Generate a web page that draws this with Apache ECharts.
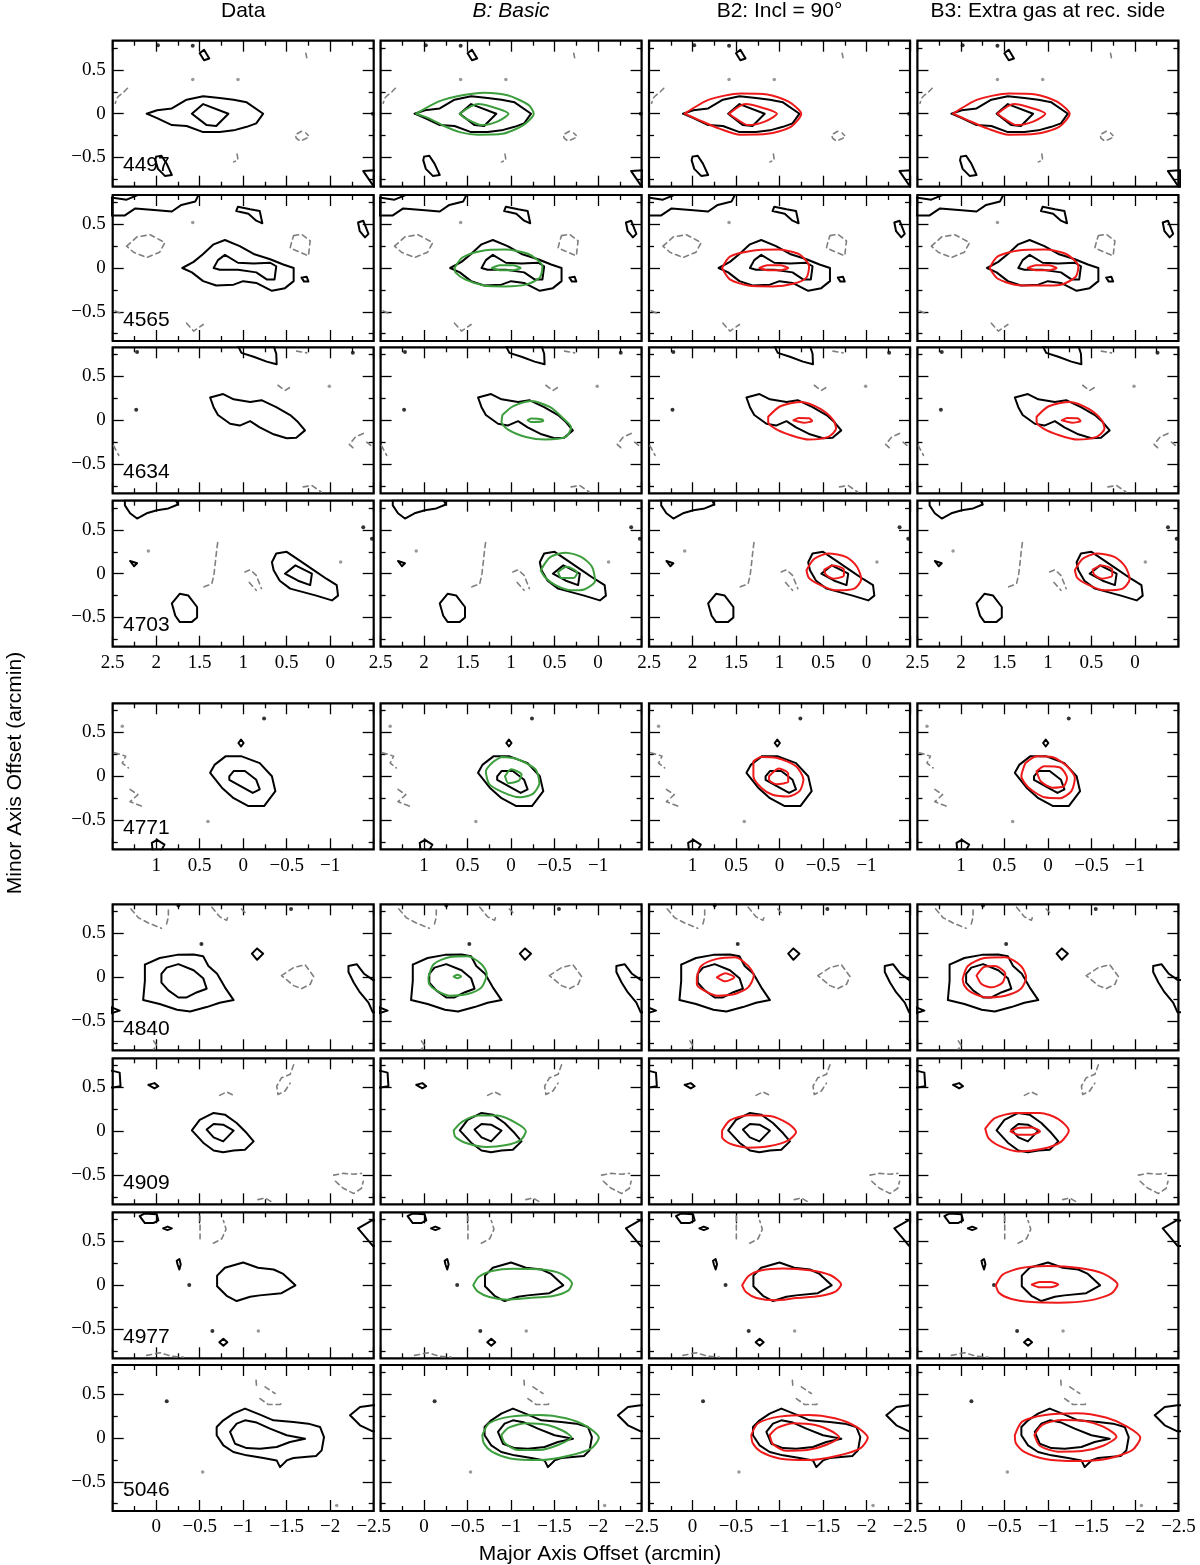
<!DOCTYPE html>
<html><head><meta charset="utf-8">
<script src="https://cdn.jsdelivr.net/npm/echarts@6.0.0/dist/echarts.min.js"></script>
<style>html,body{margin:0;padding:0;background:#fff}#c{width:1200px;height:1565px}</style>
</head><body><div id="c"></div>
<script>
// ---------------- text ----------------
const colTitles = ['Data', 'B: Basic', 'B2: Incl = 90\u00b0', 'B3: Extra gas at rec. side'];
const galaxyIds = ['4497','4565','4634','4703','4771','4840','4909','4977','5046'];
const xTitle = 'Major Axis Offset (arcmin)';
const yTitle = 'Minor Axis Offset (arcmin)';
// tick labels
const xLabelsA = [2.5, 2, 1.5, 1, 0.5, 0];
const xLabelsB = [1, 0.5, 0, -0.5, -1];
const xLabelsC = [0, -0.5, -1, -1.5, -2, -2.5];
const yLabels = [-0.5, 0, 0.5];
const yMinorTicks = [-0.75, -0.25, 0.25, 0.75];
const xRangeA = [-0.5, 2.5], xRangeB = [-1.5, 1.5], xRangeC = [-2.5, 0.5];
const yRange = [-0.8333, 0.8333];

// ---------------- NGC 4497 ----------------
const g4497_pos = [
 [[2.11,0],[1.99,0.04],[1.82,0.06],[1.65,0.16],[1.46,0.20],[1.27,0.18],[1.11,0.16],[0.96,0.13],[0.77,0],[0.85,-0.11],[0.96,-0.15],[1.11,-0.19],[1.27,-0.21],[1.46,-0.21],[1.65,-0.14],[1.82,-0.13],[1.99,-0.05]],
 [[1.59,0],[1.46,0.11],[1.17,0],[1.31,-0.14],[1.42,-0.13]],
 [[1.50,0.69],[1.45,0.73],[1.39,0.63],[1.45,0.61]],
 [[2.00,-0.49],[1.94,-0.48],[1.88,-0.57],[1.82,-0.70],[1.90,-0.71],[1.98,-0.63],[2.01,-0.53]],
 [[-0.38,-0.655],[-0.52,-0.645],[-0.52,-0.86]]
];
const g4497_neg = [
 [[2.33,0.29],[2.37,0.25],[2.42,0.21],[2.45,0.18],[2.47,0.12]],
 [[0.33,-0.20],[0.40,-0.24],[0.39,-0.28],[0.35,-0.31],[0.29,-0.29],[0.24,-0.26],[0.28,-0.22]],
 [[1.07,-0.46],[1.06,-0.53],[1.11,-0.55]],
 [[0.28,0.69],[0.27,0.64]]
];
const g4497_dots = [[1.98,0.78],[1.58,0.775],[-0.49,0]];
const g4497_gdots = [[1.58,0.39],[1.06,0.39]];
const g4497_B = [
 [[2.09,0],[1.83,0.14],[1.56,0.21],[1.31,0.24],[1.04,0.21],[0.80,0.10],[0.74,0],[0.86,-0.13],[1.10,-0.23],[1.38,-0.24],[1.59,-0.21],[1.77,-0.14],[1.95,-0.05]],
 [[1.59,0],[1.38,0.11],[1.16,0.06],[1.03,0],[1.16,-0.09],[1.34,-0.13],[1.53,-0.05]]
];
const g4497_B2 = [
 [[2.09,0],[1.81,0.16],[1.45,0.23],[1.14,0.22],[0.90,0.14],[0.75,0],[0.87,-0.15],[1.14,-0.23],[1.45,-0.24],[1.69,-0.17],[1.93,-0.07]],
 [[1.58,0],[1.39,0.11],[1.17,0.06],[1.03,0],[1.17,-0.09],[1.36,-0.13],[1.51,-0.05]]
];
const g4497_B3 = [
 [[2.09,0],[1.81,0.16],[1.45,0.23],[1.14,0.22],[0.90,0.14],[0.75,0],[0.87,-0.15],[1.14,-0.23],[1.45,-0.24],[1.69,-0.17],[1.93,-0.07]],
 [[1.58,0],[1.39,0.11],[1.17,0.06],[1.03,0],[1.17,-0.09],[1.36,-0.13],[1.51,-0.05]]
];

// ---------------- NGC 4565 ----------------
const g4565_pos = [
 [[1.70,0],[1.57,0.07],[1.46,0.16],[1.34,0.27],[1.21,0.32],[1.04,0.25],[0.88,0.16],[0.69,0.10],[0.54,0.04],[0.42,0],[0.42,-0.15],[0.52,-0.23],[0.67,-0.26],[0.85,-0.17],[1.00,-0.15],[1.11,-0.19],[1.31,-0.20],[1.46,-0.15],[1.59,-0.05]],
 [[1.34,0],[1.29,0.09],[1.21,0.15],[1.06,0.06],[0.88,0.05],[0.69,0.06],[0.62,0.02],[0.64,-0.13],[0.73,-0.13],[0.85,-0.05],[1.06,-0.02],[1.27,-0.02]],
 [[2.52,0.60],[2.36,0.60],[2.24,0.68],[1.99,0.66],[1.82,0.645],[1.71,0.72],[1.55,0.76],[1.505,0.85],[2.17,0.85],[2.34,0.78],[2.52,0.805]],
 [[1.08,0.65],[1.06,0.70],[0.92,0.67],[0.81,0.65],[0.78,0.51],[0.85,0.54],[0.94,0.62]],
 [[-0.32,0.52],[-0.38,0.54],[-0.44,0.39],[-0.40,0.35],[-0.34,0.42]],
 [[0.33,-0.11],[0.27,-0.10],[0.25,-0.155],[0.30,-0.155]]
];
const g4565_neg = [
 [[2.34,0.25],[2.22,0.355],[2.07,0.38],[1.90,0.29],[1.96,0.18],[2.11,0.12],[2.26,0.18],[2.34,0.25]],
 [[0.42,0.37],[0.33,0.385],[0.23,0.31],[0.25,0.14],[0.35,0.18],[0.46,0.23],[0.44,0.31],[0.42,0.37]],
 [[2.47,-0.49],[2.38,-0.53]],
 [[1.65,-0.63],[1.57,-0.72],[1.46,-0.645]]
];
const g4565_dots = [];
const g4565_gdots = [[1.58,0.52]];
const g4565_B = [
 [[1.65,0],[1.56,0.12],[1.34,0.195],[1.07,0.21],[0.80,0.16],[0.64,0.02],[0.67,-0.11],[0.83,-0.19],[1.07,-0.21],[1.31,-0.20],[1.53,-0.13],[1.64,-0.05]],
 [[1.22,0],[1.13,0.03],[0.98,0.03],[0.89,0],[0.98,-0.025],[1.13,-0.025]]
];
const g4565_B2 = [
 [[1.66,0],[1.57,0.13],[1.33,0.195],[1.02,0.21],[0.78,0.16],[0.66,0.02],[0.69,-0.11],[0.84,-0.18],[1.08,-0.21],[1.36,-0.20],[1.57,-0.13]],
 [[1.23,0],[1.14,0.03],[0.99,0.03],[0.90,0],[0.99,-0.025],[1.14,-0.025]]
];
const g4565_B3 = [
 [[1.67,0],[1.58,0.13],[1.34,0.20],[1.03,0.21],[0.79,0.16],[0.65,0.02],[0.68,-0.10],[0.85,-0.19],[1.10,-0.20],[1.38,-0.19],[1.58,-0.12]],
 [[1.23,0],[1.14,0.03],[0.99,0.03],[0.90,0],[0.99,-0.025],[1.14,-0.025]]
];

// ---------------- NGC 4634 ----------------
const g4634_pos = [
 [[1.38,0.26],[1.23,0.30],[1.11,0.24],[0.92,0.21],[0.79,0.23],[0.62,0.15],[0.46,0.06],[0.37,-0.02],[0.29,-0.115],[0.39,-0.20],[0.50,-0.205],[0.65,-0.16],[0.81,-0.08],[0.92,-0.01],[1.04,-0.06],[1.15,-0.04],[1.29,0.06],[1.34,0.15]],
 [[1.06,0.85],[1.06,0.83],[1.02,0.77],[0.88,0.725],[0.73,0.67],[0.615,0.64],[0.62,0.76],[0.65,0.85]]
];
const g4634_neg = [
 [[0.60,0.40],[0.52,0.34],[0.44,0.39]],
 [[0.385,0.79],[0.27,0.77]],
 [[-0.38,-0.15],[-0.29,-0.19],[-0.22,-0.275],[-0.29,-0.34]],
 [[-0.42,-0.25],[-0.49,-0.305]],
 [[2.49,-0.29],[2.43,-0.40]],
 [[0.31,-0.76],[0.21,-0.745],[0.10,-0.82]]
];
const g4634_dots = [[2.23,0.12],[-0.26,0.77],[2.22,0.78]];
const g4634_gdots = [[0.01,0.39]];
const g4634_B = [
 [[1.10,0.06],[0.98,0.16],[0.77,0.22],[0.55,0.15],[0.40,0.02],[0.31,-0.08],[0.37,-0.19],[0.61,-0.22],[0.83,-0.19],[1.03,-0.11],[1.11,-0.02]],
 [[0.81,0],[0.77,0.02],[0.64,0.01],[0.63,-0.01],[0.77,-0.02]]
];
const g4634_B2 = [
 [[1.13,0.04],[0.99,0.16],[0.75,0.21],[0.53,0.13],[0.38,0],[0.35,-0.095],[0.44,-0.19],[0.66,-0.22],[0.87,-0.17],[1.05,-0.095],[1.13,-0.02]],
 [[0.84,0],[0.78,0.027],[0.66,0.023],[0.625,-0.008],[0.72,-0.027]]
];
const g4634_B3 = [
 [[1.13,0.04],[0.99,0.16],[0.75,0.21],[0.53,0.13],[0.38,0],[0.35,-0.095],[0.44,-0.19],[0.66,-0.22],[0.87,-0.17],[1.05,-0.095],[1.13,-0.02]],
 [[0.84,0],[0.78,0.027],[0.66,0.023],[0.625,-0.008],[0.72,-0.027]]
];

// ---------------- NGC 4703 ----------------
const g4703_pos = [
 [[0.67,0.13],[0.62,0.23],[0.50,0.25],[0.35,0.15],[0.19,0.04],[0.04,-0.06],[-0.075,-0.13],[-0.09,-0.25],[-0.02,-0.305],[0.16,-0.25],[0.31,-0.21],[0.46,-0.17],[0.58,-0.08],[0.65,0.04]],
 [[0.52,0],[0.40,0.095],[0.21,0],[0.23,-0.13],[0.37,-0.08]],
 [[2.36,0.85],[2.36,0.78],[2.30,0.69],[2.22,0.63],[2.11,0.69],[1.99,0.725],[1.86,0.745],[1.75,0.79],[1.78,0.85]],
 [[1.82,-0.34],[1.73,-0.23],[1.63,-0.25],[1.53,-0.38],[1.53,-0.50],[1.59,-0.55],[1.73,-0.55],[1.78,-0.48]],
 [[2.30,0.145],[2.22,0.12],[2.255,0.085]]
];
const g4703_neg = [
 [[1.45,-0.15],[1.36,-0.115],[1.335,0],[1.32,0.13],[1.305,0.27],[1.29,0.38]],
 [[0.98,0.02],[0.92,0.045],[0.85,-0.02],[0.79,-0.17]],
 [[0.93,-0.10],[0.85,-0.19]]
];
const g4703_dots = [[-0.38,0.53],[-0.48,0.40]];
const g4703_gdots = [[2.09,0.26],[-0.12,0.134]];
const g4703_B = [
 [[0.66,0.04],[0.55,0.19],[0.37,0.24],[0.19,0.19],[0.07,0.08],[0.035,-0.08],[0.16,-0.18],[0.31,-0.19],[0.49,-0.13],[0.61,-0.04]],
 [[0.46,0.02],[0.36,0.08],[0.24,0.01],[0.28,-0.05],[0.42,-0.05]]
];
const g4703_B2 = [
 [[0.69,0.04],[0.60,0.17],[0.44,0.23],[0.23,0.19],[0.11,0.08],[0.06,-0.06],[0.14,-0.17],[0.35,-0.19],[0.53,-0.13],[0.66,-0.05]],
 [[0.485,0.046],[0.38,0.095],[0.26,0.046],[0.26,-0.02],[0.38,-0.057],[0.47,-0.008]]
];
const g4703_B3 = [
 [[0.69,0.04],[0.60,0.17],[0.44,0.23],[0.23,0.19],[0.11,0.08],[0.06,-0.06],[0.14,-0.17],[0.35,-0.19],[0.53,-0.13],[0.66,-0.05]],
 [[0.485,0.046],[0.38,0.095],[0.26,0.046],[0.26,-0.02],[0.38,-0.057],[0.47,-0.008]]
];

// ---------------- NGC 4771 ----------------
const g4771_pos = [
 [[0.33,0.13],[0.20,0.23],[0.025,0.23],[-0.19,0.15],[-0.33,0],[-0.37,-0.17],[-0.24,-0.34],[-0.06,-0.34],[0.11,-0.25],[0.245,-0.13],[0.38,0.04]],
 [[0.16,0],[0.11,0.06],[-0.02,0.06],[-0.15,-0.04],[-0.19,-0.15],[-0.11,-0.19],[0.025,-0.115],[0.16,-0.04]],
 [[0.99,-0.725],[0.905,-0.78],[0.95,-0.86],[1.04,-0.86],[1.05,-0.76]],
 [[0.055,0.38],[0.025,0.42],[-0.005,0.38],[0.025,0.34]]
];
const g4771_neg = [
 [[1.48,0.27],[1.35,0.23],[1.39,0.15],[1.32,0.095]],
 [[1.30,-0.15],[1.21,-0.21],[1.30,-0.29],[1.17,-0.34]]
];
const g4771_dots = [[-0.24,0.66]];
const g4771_gdots = [[0.405,-0.515],[1.39,0.57]];
const g4771_B = [
 [[0.115,0.22],[-0.06,0.20],[-0.28,0.08],[-0.325,-0.08],[-0.25,-0.20],[-0.106,-0.24],[0.03,-0.21],[0.246,-0.095],[0.29,0.057],[0.20,0.17]],
 [[0.07,0],[0.0,0.08],[-0.12,0.02],[-0.09,-0.05],[0.03,-0.08]]
];
const g4771_B2 = [
 [[0.30,0.17],[0.21,0.22],[0.03,0.21],[-0.19,0.115],[-0.275,-0.04],[-0.23,-0.17],[-0.10,-0.23],[0.08,-0.21],[0.21,-0.13],[0.30,0]],
 [[0.12,0],[0.007,0.09],[-0.10,0.03],[-0.10,-0.06],[0.03,-0.09],[0.12,-0.04]]
];
const g4771_B3 = [
 [[0.26,0.15],[0.13,0.23],[-0.05,0.22],[-0.22,0.115],[-0.31,-0.02],[-0.27,-0.17],[-0.14,-0.25],[0.04,-0.24],[0.22,-0.13],[0.305,0]],
 [[0.13,0.057],[0.04,0.115],[-0.14,0.10],[-0.22,-0.02],[-0.18,-0.115],[-0.05,-0.13],[0.08,-0.06]]
];

// ---------------- NGC 4840 ----------------
const g4840_pos = [
 [[0.13,0.145],[-0.04,0.22],[-0.24,0.256],[-0.43,0.26],[-0.54,0.24],[-0.60,0.13],[-0.70,0.04],[-0.79,-0.115],[-0.89,-0.26],[-0.73,-0.29],[-0.58,-0.34],[-0.39,-0.39],[-0.24,-0.37],[-0.04,-0.305],[0.15,-0.26],[0.13,-0.04]],
 [[-0.06,0.04],[-0.12,0.11],[-0.255,0.15],[-0.43,0.08],[-0.54,-0.01],[-0.58,-0.13],[-0.47,-0.17],[-0.35,-0.23],[-0.255,-0.23],[-0.14,-0.15],[-0.06,-0.06]],
 [[-1.10,0.27],[-1.16,0.33],[-1.23,0.27],[-1.16,0.20]],
 [[-2.21,0.13],[-2.305,0.15],[-2.39,0.04],[-2.49,-0.03],[-2.6,-0.03],[-2.6,-0.40],[-2.49,-0.40],[-2.44,-0.29],[-2.34,-0.17],[-2.27,-0.06],[-2.21,0.06]],
 [[0.52,-0.34],[0.42,-0.38],[0.52,-0.41]]
];
const g4840_neg = [
 [[0.29,0.78],[0.205,0.68],[0.09,0.62],[-0.06,0.56]],
 [[-0.12,0.61],[-0.14,0.69],[-0.14,0.78]],
 [[-0.64,0.80],[-0.73,0.69],[-0.81,0.65],[-0.83,0.71]],
 [[-0.98,0.78],[-1.02,0.74]],
 [[-1.44,0.02],[-1.58,0.11],[-1.71,0.145],[-1.81,0.01],[-1.77,-0.08],[-1.67,-0.13],[-1.58,-0.095],[-1.44,0.02]],
 [[0.03,-0.725],[-0.006,-0.78],[0.03,-0.82]]
];
const g4840_dots = [[-0.52,0.38],[-1.55,0.78],[-0.255,0.82]];
const g4840_gdots = [];
const g4840_B = [
 [[-0.05,0],[-0.11,0.15],[-0.29,0.23],[-0.50,0.24],[-0.66,0.15],[-0.72,0.04],[-0.66,-0.115],[-0.50,-0.19],[-0.29,-0.21],[-0.14,-0.15],[-0.06,-0.08]],
 [[-0.34,0.008],[-0.38,0.03],[-0.425,0.008],[-0.38,-0.011]]
];
const g4840_B2 = [
 [[-0.05,0],[-0.10,0.13],[-0.28,0.21],[-0.49,0.23],[-0.64,0.13],[-0.705,0.02],[-0.64,-0.115],[-0.49,-0.19],[-0.28,-0.21],[-0.13,-0.15],[-0.05,-0.08]],
 [[-0.28,0],[-0.38,0.046],[-0.48,0],[-0.38,-0.046]]
];
const g4840_B3 = [
 [[-0.02,-0.02],[-0.08,0.13],[-0.27,0.22],[-0.51,0.23],[-0.69,0.13],[-0.75,0],[-0.69,-0.13],[-0.51,-0.21],[-0.30,-0.23],[-0.115,-0.17],[-0.04,-0.095]],
 [[-0.18,0.02],[-0.27,0.12],[-0.39,0.13],[-0.51,0.04],[-0.48,-0.06],[-0.36,-0.115],[-0.24,-0.08]]
];

// ---------------- NGC 4909 ----------------
const g4909_pos = [
 [[-0.41,0.01],[-0.50,0.13],[-0.66,0.21],[-0.79,0.19],[-0.925,0.095],[-1.04,-0.02],[-1.12,-0.115],[-1.02,-0.21],[-0.89,-0.22],[-0.77,-0.24],[-0.66,-0.22],[-0.54,-0.13]],
 [[-0.58,0.02],[-0.66,0.084],[-0.77,0.076],[-0.89,0.008],[-0.77,-0.115],[-0.66,-0.07]],
 [[0.6,0.69],[0.5,0.69],[0.42,0.67],[0.41,0.515],[0.5,0.50],[0.6,0.50]],
 [[0.09,0.53],[0.02,0.55],[-0.025,0.515],[0.02,0.49]]
];
const g4909_neg = [
 [[-0.73,0.41],[-0.81,0.45],[-0.87,0.42],[-0.91,0.39]],
 [[-1.58,0.76],[-1.54,0.65],[-1.44,0.61],[-1.385,0.515],[-1.40,0.42],[-1.48,0.46],[-1.54,0.55]],
 [[-2.04,-0.50],[-2.15,-0.48],[-2.27,-0.49],[-2.36,-0.48]],
 [[-2.06,-0.57],[-2.15,-0.65],[-2.27,-0.71],[-2.36,-0.65],[-2.38,-0.57]],
 [[-1.17,-0.78],[-1.25,-0.76],[-1.35,-0.82]]
];
const g4909_dots = [];
const g4909_gdots = [];
const g4909_B = [
 [[-0.34,0.01],[-0.44,0.11],[-0.63,0.18],[-0.84,0.18],[-1.05,0.10],[-1.17,0],[-1.11,-0.10],[-0.93,-0.16],[-0.72,-0.18],[-0.50,-0.14],[-0.36,-0.065]]
];
const g4909_B2 = [
 [[-0.34,0.01],[-0.43,0.126],[-0.64,0.183],[-0.89,0.176],[-1.10,0.088],[-1.19,-0.008],[-1.10,-0.103],[-0.89,-0.168],[-0.64,-0.187],[-0.43,-0.141],[-0.34,-0.065]]
];
const g4909_B3 = [
 [[-0.28,0.03],[-0.39,0.15],[-0.63,0.21],[-0.91,0.21],[-1.12,0.14],[-1.24,0.01],[-1.15,-0.12],[-0.94,-0.20],[-0.66,-0.23],[-0.45,-0.17],[-0.32,-0.08]],
 [[-0.57,0],[-0.66,0.038],[-0.815,0.042],[-0.91,0],[-0.815,-0.038],[-0.66,-0.038]]
];

// ---------------- NGC 4977 ----------------
const g4977_pos = [
 [[-0.70,0.11],[-0.79,0.20],[-1.00,0.26],[-1.17,0.20],[-1.35,0.18],[-1.46,0.13],[-1.60,0],[-1.44,-0.09],[-1.19,-0.115],[-1.08,-0.13],[-0.925,-0.18],[-0.81,-0.12],[-0.70,-0.01]],
 [[0.19,0.79],[0.13,0.82],[-0.006,0.81],[-0.025,0.74],[0.033,0.71],[0.13,0.71]],
 [[-0.08,0.65],[-0.13,0.67],[-0.18,0.65],[-0.13,0.63]],
 [[-0.236,0.28],[-0.266,0.30],[-0.282,0.24],[-0.266,0.18],[-0.245,0.24]],
 [[-0.726,-0.65],[-0.772,-0.61],[-0.818,-0.65],[-0.772,-0.69]],
 [[-2.6,0.74],[-2.48,0.74],[-2.32,0.65],[-2.49,0.45],[-2.6,0.45]]
];
const g4977_neg = [
 [[-0.504,0.79],[-0.504,0.53]],
 [[-0.657,0.48],[-0.753,0.53],[-0.803,0.64],[-0.772,0.74]],
 [[0.11,-0.80],[-0.044,-0.77],[-0.178,-0.81],[-0.31,-0.82]]
];
const g4977_dots = [[-0.38,0.004],[-0.646,-0.523]];
const g4977_gdots = [[-1.174,-0.523]];
const g4977_B = [
 [[-0.565,0],[-0.626,0.095],[-0.78,0.164],[-1.02,0.19],[-1.33,0.183],[-1.57,0.134],[-1.70,0.02],[-1.66,-0.057],[-1.48,-0.122],[-1.20,-0.145],[-0.96,-0.164],[-0.75,-0.134],[-0.614,-0.069]]
];
const g4977_B2 = [
 [[-0.571,0],[-0.644,0.107],[-0.796,0.172],[-1.04,0.191],[-1.344,0.172],[-1.588,0.115],[-1.709,0.008],[-1.648,-0.069],[-1.466,-0.122],[-1.192,-0.145],[-0.949,-0.172],[-0.736,-0.145],[-0.614,-0.076]]
];
const g4977_B3 = [
 [[-0.401,0],[-0.48,0.122],[-0.693,0.198],[-0.997,0.221],[-1.362,0.198],[-1.636,0.134],[-1.801,0.008],[-1.728,-0.095],[-1.484,-0.172],[-1.119,-0.198],[-0.815,-0.191],[-0.571,-0.153],[-0.437,-0.084]],
 [[-0.815,0.008],[-0.906,0.038],[-1.028,0.038],[-1.119,0.008],[-1.028,-0.023],[-0.906,-0.023]]
];

// ---------------- NGC 5046 ----------------
const g5046_pos = [
 [[-0.695,0.126],[-0.772,0.202],[-0.887,0.279],[-1.021,0.336],[-1.193,0.267],[-1.347,0.202],[-1.577,0.183],[-1.749,0.164],[-1.883,0.126],[-1.929,0.011],[-1.902,-0.141],[-1.837,-0.206],[-1.577,-0.229],[-1.50,-0.256],[-1.423,-0.332],[-1.385,-0.256],[-1.232,-0.229],[-1.04,-0.198],[-0.887,-0.16],[-0.772,-0.084],[-0.695,0.031]],
 [[-0.849,0.069],[-0.925,0.164],[-1.021,0.202],[-1.155,0.176],[-1.308,0.107],[-1.50,0.031],[-1.711,-0.008],[-1.538,-0.046],[-1.385,-0.103],[-1.193,-0.122],[-1.04,-0.115],[-0.906,-0.065]],
 [[-2.6,0.374],[-2.489,0.374],[-2.343,0.355],[-2.228,0.26],[-2.343,0.145],[-2.489,0.076],[-2.6,0.076]]
];
const g5046_neg = [
 [[-1.148,0.66],[-1.155,0.565]],
 [[-1.251,0.584],[-1.366,0.508]],
 [[-1.193,0.45],[-1.289,0.382],[-1.423,0.382],[-1.462,0.412]]
];
const g5046_dots = [[-0.121,0.42]];
const g5046_gdots = [[-0.534,-0.389],[-2.075,-0.771]];
const g5046_B = [
 [[-0.669,0.034],[-0.748,0.168],[-0.991,0.244],[-1.326,0.263],[-1.63,0.225],[-1.874,0.13],[-2.008,0.004],[-1.922,-0.118],[-1.661,-0.202],[-1.326,-0.252],[-0.991,-0.233],[-0.778,-0.156],[-0.687,-0.061]],
 [[-0.888,0.034],[-0.973,0.118],[-1.174,0.168],[-1.417,0.149],[-1.60,0.08],[-1.691,0.008],[-1.539,-0.08],[-1.326,-0.137],[-1.082,-0.137],[-0.93,-0.061]]
];
const g5046_B2 = [
 [[-0.675,0.034],[-0.754,0.168],[-0.997,0.244],[-1.332,0.263],[-1.636,0.225],[-1.88,0.13],[-2.014,0.004],[-1.928,-0.118],[-1.667,-0.202],[-1.332,-0.252],[-0.997,-0.233],[-0.784,-0.156],[-0.693,-0.061]],
 [[-0.888,0.034],[-0.979,0.118],[-1.168,0.168],[-1.411,0.149],[-1.594,0.08],[-1.685,0.008],[-1.533,-0.08],[-1.32,-0.137],[-1.076,-0.145],[-0.924,-0.069]]
];
const g5046_B3 = [
 [[-0.62,0.034],[-0.705,0.187],[-0.967,0.263],[-1.332,0.282],[-1.667,0.233],[-1.91,0.13],[-2.062,0.004],[-1.971,-0.137],[-1.697,-0.233],[-1.332,-0.263],[-0.967,-0.24],[-0.723,-0.156],[-0.632,-0.061]],
 [[-0.845,0.034],[-0.936,0.149],[-1.149,0.206],[-1.423,0.195],[-1.636,0.13],[-1.788,0.015],[-1.636,-0.088],[-1.393,-0.149],[-1.119,-0.156],[-0.906,-0.088]]
];

// ---------------- table built from the arrays ----------------
const rowsTable = [
 {id:galaxyIds[0], pos:g4497_pos, neg:g4497_neg, dots:g4497_dots, gdots:g4497_gdots, m:[g4497_B,g4497_B2,g4497_B3], xr:xRangeA, xl:null},
 {id:galaxyIds[1], pos:g4565_pos, neg:g4565_neg, dots:g4565_dots, gdots:g4565_gdots, m:[g4565_B,g4565_B2,g4565_B3], xr:xRangeA, xl:null},
 {id:galaxyIds[2], pos:g4634_pos, neg:g4634_neg, dots:g4634_dots, gdots:g4634_gdots, m:[g4634_B,g4634_B2,g4634_B3], xr:xRangeA, xl:null},
 {id:galaxyIds[3], pos:g4703_pos, neg:g4703_neg, dots:g4703_dots, gdots:g4703_gdots, m:[g4703_B,g4703_B2,g4703_B3], xr:xRangeA, xl:xLabelsA},
 {id:galaxyIds[4], pos:g4771_pos, neg:g4771_neg, dots:g4771_dots, gdots:g4771_gdots, m:[g4771_B,g4771_B2,g4771_B3], xr:xRangeB, xl:xLabelsB},
 {id:galaxyIds[5], pos:g4840_pos, neg:g4840_neg, dots:g4840_dots, gdots:g4840_gdots, m:[g4840_B,g4840_B2,g4840_B3], xr:xRangeC, xl:null},
 {id:galaxyIds[6], pos:g4909_pos, neg:g4909_neg, dots:g4909_dots, gdots:g4909_gdots, m:[g4909_B,g4909_B2,g4909_B3], xr:xRangeC, xl:null},
 {id:galaxyIds[7], pos:g4977_pos, neg:g4977_neg, dots:g4977_dots, gdots:g4977_gdots, m:[g4977_B,g4977_B2,g4977_B3], xr:xRangeC, xl:null},
 {id:galaxyIds[8], pos:g5046_pos, neg:g5046_neg, dots:g5046_dots, gdots:g5046_gdots, m:[g5046_B,g5046_B2,g5046_B3], xr:xRangeC, xl:xLabelsC}
];

// ---------------- layout / style ----------------
const colLeft = [112.7, 380.6, 649, 917.4];
const rowTop = [40.7, 195, 347.3, 500.7, 703.3, 904.3, 1058.3, 1212.3, 1365];
const PW = 261, PH = 146;
const GREEN = '#3c9e3c', RED = '#ee1a1a', GREY = '#7f7f7f';
const SERIF = '"Liberation Serif", "DejaVu Serif", serif';
const SANS = '"Liberation Sans", Arial, sans-serif';

const fmt = v => (v < -1e-9 ? '\u2212' : '') + String(Math.round(Math.abs(v) * 100) / 100);
const closeLoop = p => p.concat([p[0]]);
const tickStyle = {color:'#000', width:1.3};

const grids = [], xAxes = [], yAxes = [], series = [], graphics = [];

rowsTable.forEach((g, r) => {
  for (let c = 0; c < 4; c++) {
    const gi = r * 4 + c;
    grids.push({left: colLeft[c], top: rowTop[r], width: PW, height: PH, show: true,
      borderColor: '#000', borderWidth: 2.2, backgroundColor: 'transparent', containLabel: false, outerBoundsMode: 'none'});
    ['bottom', 'top'].forEach(pos => {
      const lab = (pos === 'bottom' && g.xl) ? g.xl : null;
      xAxes.push({type: 'value', gridIndex: gi, position: pos, min: g.xr[0], max: g.xr[1], inverse: true, interval: 0.5,
        axisLine: {show: false, onZero: false}, splitLine: {show: false}, minorSplitLine: {show: false},
        axisTick: {show: true, inside: true, length: 11, lineStyle: tickStyle},
        minorTick: {show: true, splitNumber: 2, length: 5, lineStyle: tickStyle},
        axisLabel: lab ? {show: true, customValues: lab, formatter: fmt, margin: 7, color: '#000',
          fontFamily: SERIF, fontSize: 19, showMinLabel: true, showMaxLabel: true} : {show: false}});
    });
    [['left', false], ['left', true], ['right', false], ['right', true]].forEach(([pos, minor]) => {
      const lab = (!minor && pos === 'left' && c === 0);
      yAxes.push({type: 'value', gridIndex: gi, position: pos, min: yRange[0], max: yRange[1],
        axisLine: {show: false, onZero: false}, splitLine: {show: false},
        axisTick: {show: true, inside: true, length: minor ? 5 : 11, customValues: minor ? yMinorTicks : yLabels, lineStyle: tickStyle},
        axisLabel: lab ? {show: true, customValues: yLabels, formatter: fmt, margin: 7, color: '#000',
          fontFamily: SERIF, fontSize: 19, showMinLabel: true, showMaxLabel: true} : {show: false}});
    });
    const ax = {xAxisIndex: 2 * gi, yAxisIndex: 4 * gi};
    const line = (data, color, width, type, z, smooth) => ({type: 'line', ...ax, data, symbol: 'none', silent: true,
      smooth: smooth || false, clip: true, z, animation: false, lineStyle: {color, width, type, cap: 'round', join: 'round'}});
    g.neg.forEach(p => series.push(line(p, GREY, 1.6, [5, 4], 2)));
    g.pos.forEach(p => series.push(line(closeLoop(p), '#000', 2, 'solid', 3)));
    if (g.dots.length) series.push({type: 'scatter', ...ax, data: g.dots, symbolSize: 4, silent: true, z: 3,
      itemStyle: {color: '#000'}, animation: false});
    if (g.gdots.length) series.push({type: 'scatter', ...ax, data: g.gdots, symbolSize: 3.5, silent: true, z: 2,
      itemStyle: {color: GREY}, animation: false});
    if (c > 0) {
      const col = c === 1 ? GREEN : RED;
      g.m[c - 1].forEach(p => series.push(line(closeLoop(p), col, 2, 'solid', 4, 0.25)));
    }
  }
  graphics.push({type: 'text', x: 123, y: rowTop[r] + PH - 21, z: 10,
    style: {text: g.id, font: '21px ' + SANS, fill: '#000', verticalAlign: 'middle', align: 'left'}});
});

colTitles.forEach((t, c) => {
  graphics.push({type: 'text', x: colLeft[c] + PW / 2, y: 11, z: 10,
    style: {text: t, font: (c === 1 ? 'italic ' : '') + '21px ' + SANS, fill: '#000', align: 'center', verticalAlign: 'middle'}});
});
graphics.push({type: 'text', x: 600, y: 1554, z: 10,
  style: {text: xTitle, font: '21px ' + SANS, fill: '#000', align: 'center', verticalAlign: 'middle'}});
graphics.push({type: 'text', x: 15, y: 773, rotation: Math.PI / 2, z: 10,
  style: {text: yTitle, font: '21px ' + SANS, fill: '#000', align: 'center', verticalAlign: 'middle'}});

const chart = echarts.init(document.getElementById('c'), null, {renderer: 'canvas'});
chart.setOption({
  animation: false,
  backgroundColor: '#fff',
  grid: grids,
  xAxis: xAxes,
  yAxis: yAxes,
  series: series,
  graphic: graphics
});
</script></body></html>
